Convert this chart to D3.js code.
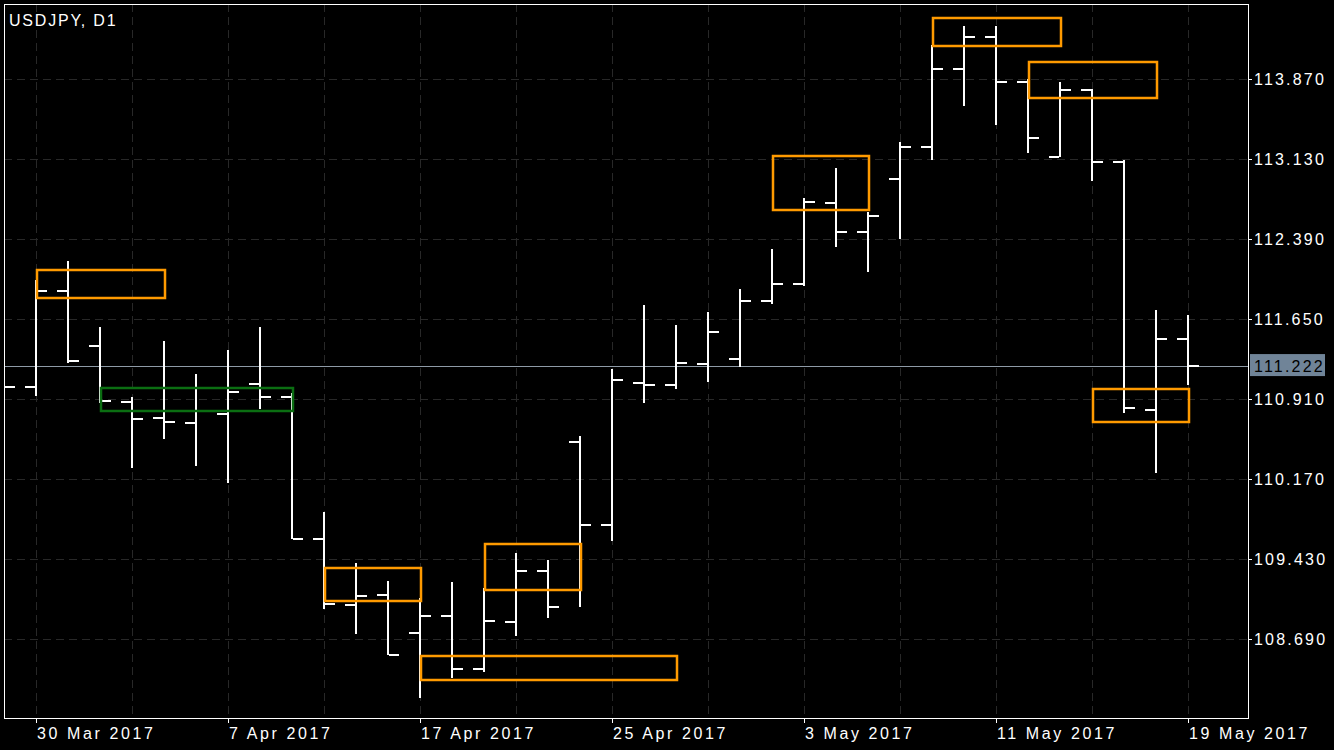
<!DOCTYPE html>
<html>
<head>
<meta charset="utf-8">
<script src="https://cdn.jsdelivr.net/npm/d3@7"></script>
<style>
  html, body { margin: 0; padding: 0; background: #000; }
  svg { display: block; }
</style>
</head>
<body>
<svg id="chart" width="1334" height="750"></svg>
<script>
// ---------- DATA ----------
const symbolTitle = "USDJPY, D1";
const dates = ["2017-03-29","2017-03-30","2017-03-31","2017-04-03","2017-04-04","2017-04-05","2017-04-06","2017-04-07",
  "2017-04-10","2017-04-11","2017-04-12","2017-04-13","2017-04-14","2017-04-17","2017-04-18","2017-04-19","2017-04-20",
  "2017-04-21","2017-04-24","2017-04-25","2017-04-26","2017-04-27","2017-04-28","2017-05-01","2017-05-02","2017-05-03",
  "2017-05-04","2017-05-05","2017-05-08","2017-05-09","2017-05-10","2017-05-11","2017-05-12","2017-05-15","2017-05-16",
  "2017-05-17","2017-05-18","2017-05-19"];
const openP  = [111.000,111.027,111.915,111.403,110.888,110.740,110.691,110.777,111.054,110.934,109.615,109.010,109.103,
  108.751,108.908,108.413,108.853,109.325,110.518,109.747,111.064,111.042,111.239,111.286,111.819,111.977,112.729,112.460,
  112.951,113.247,113.965,114.264,113.848,113.154,113.771,113.105,110.811,111.468];
const highP  = [111.300,112.014,112.189,111.576,110.931,111.449,111.144,111.366,111.579,110.968,109.868,109.396,109.229,
  109.072,109.217,109.165,109.488,109.424,110.571,111.190,111.782,111.597,111.718,111.930,112.300,112.772,113.050,112.643,
  113.287,114.187,114.363,114.363,113.873,113.842,113.778,113.121,111.736,111.690];
const lowP   = [110.900,110.943,111.243,110.876,110.277,110.546,110.296,110.139,110.823,109.615,108.968,108.736,108.545,
  108.144,108.329,108.390,108.723,108.890,108.992,109.602,110.879,111.008,111.073,111.212,111.787,111.961,112.322,112.090,
  112.397,113.126,113.626,113.450,113.191,113.149,112.932,110.786,110.231,111.045];
const closeP = [111.027,111.915,111.267,110.894,110.728,110.700,110.805,110.980,110.934,109.615,109.019,109.093,108.548,
  108.908,108.413,108.862,109.325,108.992,109.747,111.089,111.042,111.249,111.535,111.819,111.977,112.738,112.460,112.606,
  113.247,113.965,114.264,113.848,113.330,113.771,113.105,110.832,111.468,111.222];
const currentPrice = 111.222;
const priceTicks = [108.690,109.430,110.170,110.910,111.650,112.390,113.130,113.870];

// zones: start/end bar index, top/bottom price, kind
const zoneStart  = [1, 3, 10, 13, 15, 24, 29, 32, 34];
const zoneEnd    = [5, 9, 13, 21, 18, 27, 33, 36, 37];
const zoneTop    = [112.106,111.017,109.352,108.535,109.569,113.158,114.434,114.027,111.008];
const zoneBottom = [111.844,110.802,109.044,108.313,109.143,112.658,114.175,113.694,110.703];
const zoneKind   = ["zone","base","zone","zone","zone","zone","zone","zone","zone"];

// ---------- LAYOUT ----------
const W = 1334, H = 750;
const plot = {left: 4, top: 4, right: 1248, bottom: 718};
const svg = d3.select("#chart");

const parse = d3.timeParse("%Y-%m-%d");
const fmt = d3.timeFormat("%-d %b %Y");
const bars = dates.map((d, i) => ({i, date: parse(d), o: openP[i], h: highP[i], l: lowP[i], c: closeP[i]}));

const x = d3.scaleLinear().domain([0, dates.length - 1]).range([4, 1188]);
const y = d3.scaleLinear().domain([108.69, 113.87]).range([639.3, 79.3]);

const gridColor = "#282828";
const kindColor = {zone: "#ff9a00", base: "#0b6e12"};

svg.append("rect").attr("width", W).attr("height", H).attr("fill", "#000");

svg.append("defs").append("clipPath").attr("id", "clip")
  .append("rect").attr("x", plot.left + 1).attr("y", plot.top + 1)
  .attr("width", plot.right - plot.left - 1).attr("height", plot.bottom - plot.top - 1);

const g = svg.append("g").attr("clip-path", "url(#clip)");

// horizontal grid
g.selectAll("line.hg").data(priceTicks).join("line")
  .attr("x1", plot.left).attr("x2", plot.right)
  .attr("y1", d => Math.round(y(d)) + 0.5).attr("y2", d => Math.round(y(d)) + 0.5)
  .attr("stroke", gridColor).attr("stroke-width", 1).attr("stroke-dasharray", "8,5");

// vertical grid every 3 bars starting at index 1
const vgIdx = d3.range(1, dates.length, 3);
g.selectAll("line.vg").data(vgIdx).join("line")
  .attr("x1", d => Math.round(x(d)) + 0.5).attr("x2", d => Math.round(x(d)) + 0.5)
  .attr("y1", plot.top).attr("y2", plot.bottom)
  .attr("stroke", gridColor).attr("stroke-width", 1).attr("stroke-dasharray", "8,5");

// current price line
g.append("line")
  .attr("x1", plot.left).attr("x2", plot.right)
  .attr("y1", Math.round(y(currentPrice)) + 0.5).attr("y2", Math.round(y(currentPrice)) + 0.5)
  .attr("stroke", "#8e9aa6").attr("stroke-width", 1);

// OHLC bars
const bg = g.append("g").attr("stroke", "#fff").attr("stroke-width", 2).attr("fill", "none");
const bar = bg.selectAll("g.bar").data(bars).join("g");
bar.append("line")
  .attr("x1", d => Math.round(x(d.i))).attr("x2", d => Math.round(x(d.i)))
  .attr("y1", d => Math.round(y(d.h))).attr("y2", d => Math.round(y(d.l)));
bar.append("line")
  .attr("x1", d => Math.round(x(d.i)) - 11).attr("x2", d => Math.round(x(d.i)) - 1)
  .attr("y1", d => Math.round(y(d.o))).attr("y2", d => Math.round(y(d.o)));
bar.append("line")
  .attr("x1", d => Math.round(x(d.i)) + 1).attr("x2", d => Math.round(x(d.i)) + 11)
  .attr("y1", d => Math.round(y(d.c))).attr("y2", d => Math.round(y(d.c)));

// zones
const zones = zoneStart.map((s, k) => ({s, e: zoneEnd[k], t: zoneTop[k], b: zoneBottom[k], kind: zoneKind[k]}));
g.selectAll("rect.zone").data(zones).join("rect")
  .attr("x", d => Math.round(x(d.s)) + 1)
  .attr("y", d => Math.round(y(d.t)))
  .attr("width", d => Math.round(x(d.e)) - Math.round(x(d.s)))
  .attr("height", d => Math.round(y(d.b)) - Math.round(y(d.t)))
  .attr("fill", "none")
  .attr("stroke", d => kindColor[d.kind])
  .attr("stroke-width", 2.5);

// frame
svg.append("rect")
  .attr("x", plot.left + 0.5).attr("y", plot.top + 0.5)
  .attr("width", plot.right - plot.left).attr("height", plot.bottom - plot.top)
  .attr("fill", "none").attr("stroke", "#fff").attr("stroke-width", 1);

const font = "'Liberation Sans', Arial, Helvetica, sans-serif";

// title
svg.append("text").attr("x", 9).attr("y", 26)
  .attr("fill", "#fff").attr("font-family", font).attr("font-size", 16)
  .attr("letter-spacing", 1.8).text(symbolTitle);

// y axis labels
const yAx = svg.append("g");
yAx.selectAll("line").data(priceTicks).join("line")
  .attr("x1", plot.right + 1).attr("x2", plot.right + 4)
  .attr("y1", d => Math.round(y(d)) + 0.5).attr("y2", d => Math.round(y(d)) + 0.5)
  .attr("stroke", "#fff").attr("stroke-width", 1);
yAx.selectAll("text").data(priceTicks).join("text")
  .attr("x", 1254).attr("y", d => y(d) + 6)
  .attr("fill", "#fff").attr("font-family", font).attr("font-size", 16)
  .attr("letter-spacing", 2.2).text(d => d3.format(".3f")(d));

// current price label
const cpY = y(currentPrice);
svg.append("rect").attr("x", 1250).attr("y", cpY - 11.5).attr("width", 75).attr("height", 22)
  .attr("fill", "#708498");
svg.append("text").attr("x", 1254).attr("y", cpY + 6)
  .attr("fill", "#000").attr("font-family", font).attr("font-size", 16)
  .attr("letter-spacing", 2.2).text(d3.format(".3f")(currentPrice));

// x axis labels every 6 bars starting index 1
const xLab = d3.range(1, dates.length, 6);
const xAx = svg.append("g");
xAx.selectAll("line").data(xLab).join("line")
  .attr("x1", d => Math.round(x(d)) + 0.5).attr("x2", d => Math.round(x(d)) + 0.5)
  .attr("y1", plot.bottom + 1).attr("y2", plot.bottom + 5)
  .attr("stroke", "#fff").attr("stroke-width", 1);
xAx.selectAll("text").data(xLab).join("text")
  .attr("x", d => Math.round(x(d)) + 1).attr("y", 739)
  .attr("fill", "#fff").attr("font-family", font).attr("font-size", 16)
  .attr("letter-spacing", 2.6).text(d => fmt(bars[d].date));
</script>
</body>
</html>
